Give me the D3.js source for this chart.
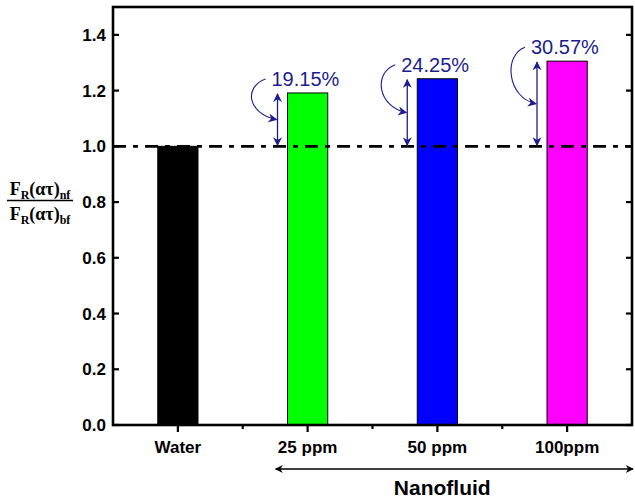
<!DOCTYPE html>
<html>
<head>
<meta charset="utf-8">
<script src="https://cdn.jsdelivr.net/npm/d3@7/dist/d3.min.js"></script>
<style>
  html, body { margin: 0; padding: 0; background: #fff; }
  svg { display: block; }
  text { font-family: Arial, "Liberation Sans", sans-serif; }
</style>
</head>
<body>
<svg id="chart" width="635" height="501"></svg>
<script>
// Relative figure of merit: nanofluid vs base fluid
const categories = ["Water", "25 ppm", "50 ppm", "100ppm"];
const ratios = [1.0, 1.1915, 1.2425, 1.3057];
const barColors = ["#000000", "#00ff00", "#0000ff", "#ff00ff"];
const gainLabels = ["", "19.15%", "24.25%", "30.57%"];
const yTicks = [0.0, 0.2, 0.4, 0.6, 0.8, 1.0, 1.2, 1.4];
const baseline = 1.0;
const groupLabel = "Nanofluid";

const svg = d3.select("#chart");
const margin = { left: 113, right: 3, top: 7, bottom: 76 };
const W = 635, H = 501;
const x0 = margin.left, x1 = W - margin.right;
const y0 = H - margin.bottom, y1 = margin.top;

const x = d3.scaleBand().domain(categories).range([x0, x1]).paddingInner(0.69).paddingOuter(0.345);
const xc = d => x(d) + x.bandwidth() / 2;
const y = d3.scaleLinear().domain([0, 1.5]).range([y0, y1]);

const navy = "#1c1c8c";
const defs = svg.append("defs");
defs.append("marker").attr("id", "ah")
  .attr("viewBox", "0 0 10 10").attr("refX", 9).attr("refY", 5)
  .attr("markerWidth", 9).attr("markerHeight", 9).attr("markerUnits", "userSpaceOnUse")
  .attr("orient", "auto-start-reverse")
  .append("path").attr("d", "M0,0 L10,5 L0,10 L3,5 Z").attr("fill", navy);
defs.append("marker").attr("id", "bh")
  .attr("viewBox", "0 0 10 10").attr("refX", 9).attr("refY", 5)
  .attr("markerWidth", 10).attr("markerHeight", 8).attr("markerUnits", "userSpaceOnUse")
  .attr("orient", "auto-start-reverse")
  .append("path").attr("d", "M0,0 L10,5 L0,10 L3,5 Z").attr("fill", "#000");

// bars
svg.append("g").selectAll("rect").data(categories).join("rect")
  .attr("x", d => x(d)).attr("width", x.bandwidth())
  .attr("y", (d, i) => y(ratios[i])).attr("height", (d, i) => y(0) - y(ratios[i]))
  .attr("fill", (d, i) => barColors[i]).attr("stroke", "#000").attr("stroke-width", 1);

// reference line at ratio 1
svg.append("line")
  .attr("x1", x0).attr("x2", x1).attr("y1", y(baseline)).attr("y2", y(baseline))
  .attr("stroke", "#000").attr("stroke-width", 2.6).attr("stroke-dasharray", "13,7,5,7");

// gain annotations: double arrow from the reference line to the bar top, curved pointer, percentage
categories.forEach((c, i) => {
  if (!gainLabels[i]) return;
  const ax = x(c) - 10;
  const top = y(ratios[i]), bot = y(baseline);
  svg.append("line").attr("x1", ax).attr("x2", ax).attr("y1", bot - 1).attr("y2", top + 1)
    .attr("stroke", navy).attr("stroke-width", 1.3)
    .attr("marker-start", "url(#ah)").attr("marker-end", "url(#ah)");
  const mid = (top + bot) / 2;
  const sx = ax - 12, sy = top - 14;
  svg.append("path")
    .attr("d", `M${sx},${sy} C${ax - 34},${sy + 8} ${ax - 30},${mid - 6} ${ax - 1},${mid}`)
    .attr("fill", "none").attr("stroke", navy).attr("stroke-width", 1.1)
    .attr("marker-end", "url(#ah)");
  svg.append("text").attr("x", ax - 6).attr("y", top - 7)
    .attr("font-size", 20).attr("fill", navy).text(gainLabels[i]);
});

// frame
svg.append("rect").attr("x", x0).attr("y", y1).attr("width", x1 - x0).attr("height", y0 - y1)
  .attr("fill", "none").attr("stroke", "#000").attr("stroke-width", 2.6);

// y ticks (inward on both sides)
const yg = svg.append("g");
yg.selectAll("line.l").data(yTicks).join("line").attr("class", "l")
  .attr("x1", x0).attr("x2", x0 + 6).attr("y1", d => y(d)).attr("y2", d => y(d))
  .attr("stroke", "#000").attr("stroke-width", 2.2);
yg.selectAll("line.r").data(yTicks).join("line").attr("class", "r")
  .attr("x1", x1).attr("x2", x1 - 6).attr("y1", d => y(d)).attr("y2", d => y(d))
  .attr("stroke", "#000").attr("stroke-width", 2.2);
yg.selectAll("text").data(yTicks).join("text")
  .attr("x", x0 - 7).attr("y", d => y(d)).attr("dy", "0.36em")
  .attr("text-anchor", "end").attr("font-size", 17).attr("font-weight", "bold")
  .text(d => d3.format(".1f")(d));

// x ticks (outward), minor ticks between categories
const xg = svg.append("g");
xg.selectAll("line.M").data(categories).join("line").attr("class", "M")
  .attr("x1", d => xc(d)).attr("x2", d => xc(d)).attr("y1", y0).attr("y2", y0 + 7)
  .attr("stroke", "#000").attr("stroke-width", 2.2);
xg.selectAll("line.m").data(categories.slice(1)).join("line").attr("class", "m")
  .attr("x1", d => xc(d) - x.step() / 2).attr("x2", d => xc(d) - x.step() / 2)
  .attr("y1", y0).attr("y2", y0 + 4)
  .attr("stroke", "#000").attr("stroke-width", 2.2);
xg.selectAll("text").data(categories).join("text")
  .attr("x", d => xc(d)).attr("y", y0 + 28)
  .attr("text-anchor", "middle").attr("font-size", 17).attr("font-weight", "bold")
  .text(d => d);

// nanofluid group arrow
svg.append("line")
  .attr("x1", xc(categories[1]) - 32).attr("x2", x1 + 1)
  .attr("y1", 469).attr("y2", 469)
  .attr("stroke", "#000").attr("stroke-width", 1.6)
  .attr("marker-start", "url(#bh)").attr("marker-end", "url(#bh)");
svg.append("text").attr("x", (xc(categories[2]) + xc(categories[3])) / 2 - 60).attr("y", 495)
  .attr("text-anchor", "middle").attr("font-size", 21).attr("font-weight", "bold")
  .text(groupLabel);

// y label as a fraction
const yl = svg.append("g").attr("font-weight", "bold").attr("font-size", 18);
function fracLine(yy, sub) {
  const t = yl.append("text").attr("x", 40).attr("y", yy).attr("text-anchor", "middle")
    .style("font-family", "'Liberation Serif', 'DejaVu Serif', serif");
  t.append("tspan").text("F");
  t.append("tspan").attr("font-size", 12).attr("dy", 4).text("R");
  t.append("tspan").attr("dy", -4).text("(ατ)");
  t.append("tspan").attr("font-size", 12).attr("dy", 4).text(sub);
}
fracLine(195, "nf");
yl.append("line").attr("x1", 7).attr("x2", 73).attr("y1", 200.5).attr("y2", 200.5)
  .attr("stroke", "#000").attr("stroke-width", 1.5);
fracLine(220, "bf");
</script>
</body>
</html>
